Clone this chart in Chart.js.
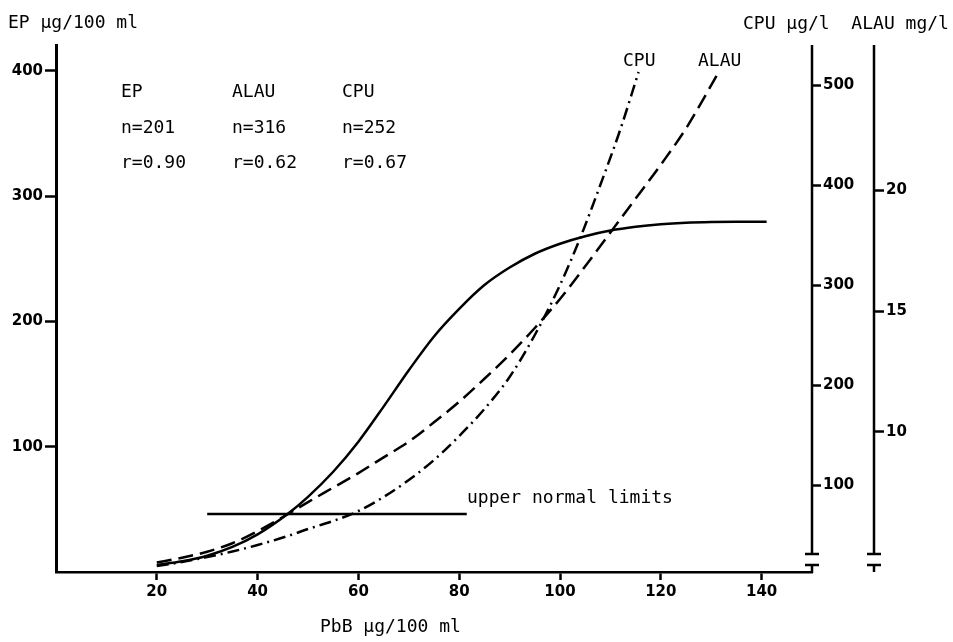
<!DOCTYPE html>
<html>
<head>
<meta charset="utf-8">
<script src="https://cdn.jsdelivr.net/npm/chart.js@4/dist/chart.umd.min.js"></script>
<style>
  html, body { margin: 0; padding: 0; background: #fff; }
  #wrap { width: 953px; height: 642px; }
</style>
</head>
<body>
<div id="wrap"><canvas id="c" width="953" height="642"></canvas></div>
<script>
// ---- data ----
const epPbB  = [20, 25, 30, 35, 40, 46, 50, 55, 60, 65, 70, 75, 80, 85, 90, 95, 100, 105, 110, 115, 120, 125, 130, 135, 141];
const epVals = [5.6, 8.5, 13, 20, 30, 46.5, 60, 80, 104, 132, 161, 188, 210, 229, 243, 254, 262, 268, 272.5, 275.5, 277.5, 278.7, 279.3, 279.5, 279.5];

const alauPbB  = [20, 25, 30, 35, 40, 46, 50, 55, 60, 65, 70, 75, 80, 85, 90, 95, 100, 105, 110, 115, 120, 125, 131.5];
const alauVals = [4.6, 4.8, 5.05, 5.4, 5.9, 6.6, 7.1, 7.7, 8.3, 8.95, 9.6, 10.4, 11.25, 12.2, 13.2, 14.3, 15.5, 16.85, 18.25, 19.65, 21.05, 22.55, 24.88];

const cpuPbB  = [20, 25, 30, 35, 40, 46, 50, 55, 60, 65, 70, 75, 80, 85, 90, 95, 100, 104, 108, 112, 115.6];
const cpuVals = [19, 23, 28, 33.5, 40, 49, 56, 64, 74, 88, 105, 125, 149, 176, 208, 250, 300, 347, 400, 456, 513];

const limitPbB = [30, 81.5];
const limitEP  = [46.3, 46.3];

const xTicks    = [20, 40, 60, 80, 100, 120, 140];
const epTicks   = [100, 200, 300, 400];
const cpuTicks  = [100, 200, 300, 400, 500];
const alauTicks = [10, 15, 20];

const statHeads = ['EP', 'ALAU', 'CPU'];
const statN     = ['n=201', 'n=316', 'n=252'];
const statR     = ['r=0.90', 'r=0.62', 'r=0.67'];

// ---- helpers ----
const pts = (xs, ys) => xs.map((v, i) => ({ x: v, y: ys[i] }));
const BLACK = '#000';
const tickFont = { family: '"DejaVu Sans"', size: 15, weight: 'bold' };
const monoFont = '18px "DejaVu Sans Mono"';

const lineBase = {
  borderColor: BLACK, borderWidth: 2.5, pointRadius: 0, fill: false,
  cubicInterpolationMode: 'monotone'
};

const fixTicks = arr => scale => { scale.ticks = arr.map(v => ({ value: v })); };

const decor = {
  id: 'decor',
  afterDraw(chart) {
    const ctx = chart.ctx;
    const ca = chart.chartArea;
    const cpu = chart.scales.cpu, alau = chart.scales.alau;
    ctx.save();
    ctx.strokeStyle = BLACK;
    ctx.fillStyle = BLACK;
    ctx.lineWidth = 2.5;
    ctx.lineCap = 'butt';
    const seg = (x1, y1, x2, y2) => { ctx.beginPath(); ctx.moveTo(x1, y1); ctx.lineTo(x2, y2); ctx.stroke(); };
    const breakY = ca.bottom - 18;
    // right axis lines with break marks
    [cpu.left, alau.left].forEach(ax => {
      seg(ax, ca.top, ax, breakY);
      seg(ax - 7, breakY, ax + 7, breakY);
      seg(ax - 7, breakY + 11, ax + 7, breakY + 11);
    });
    // x axis hook into the CPU break
    seg(cpu.left, ca.bottom + 1, cpu.left, breakY + 11);
    // ALAU lower stub
    seg(alau.left, breakY + 11, alau.left, ca.bottom);

    // texts
    ctx.font = monoFont;
    ctx.textBaseline = 'alphabetic';
    ctx.textAlign = 'left';
    ctx.fillText('EP \u00b5g/100 ml', 8, 28);
    ctx.fillText('CPU \u00b5g/l  ALAU mg/l', 743, 29);
    ctx.fillText('PbB \u00b5g/100 ml', 320, 632);
    ctx.fillText('upper normal limits', 467, 503);
    ctx.fillText('CPU', 623, 66);
    ctx.fillText('ALAU', 698, 66);
    const colX = [121, 232, 342];
    statHeads.forEach((t, i) => ctx.fillText(t, colX[i], 97));
    statN.forEach((t, i) => ctx.fillText(t, colX[i], 133));
    statR.forEach((t, i) => ctx.fillText(t, colX[i], 168));
    ctx.restore();
  }
};

new Chart(document.getElementById('c'), {
  type: 'line',
  data: {
    datasets: [
      { ...lineBase, label: 'EP', data: pts(epPbB, epVals), yAxisID: 'y' },
      { ...lineBase, label: 'ALAU', data: pts(alauPbB, alauVals), yAxisID: 'alau', borderDash: [15, 7] },
      { ...lineBase, label: 'CPU', data: pts(cpuPbB, cpuVals), yAxisID: 'cpu', borderDash: [12, 5, 2, 5] },
      { ...lineBase, label: 'upper normal limits', data: pts(limitPbB, limitEP), yAxisID: 'y', cubicInterpolationMode: 'default' }
    ]
  },
  options: {
    responsive: false,
    animation: false,
    devicePixelRatio: 1,
    layout: { padding: { top: 45, left: 0, right: 0, bottom: 0 } },
    plugins: { legend: { display: false }, tooltip: { enabled: false } },
    scales: {
      x: {
        type: 'linear', min: 0, max: 150,
        afterBuildTicks: fixTicks(xTicks),
        afterFit: s => { s.height = 70; },
        border: { display: true, color: BLACK, width: 2.5 },
        grid: { drawOnChartArea: false, drawTicks: true, tickLength: 8, tickColor: BLACK, tickWidth: 2.5, color: BLACK },
        ticks: { color: BLACK, font: tickFont, padding: 3, autoSkip: false, maxRotation: 0 }
      },
      y: {
        type: 'linear', position: 'left', min: 0, max: 420.6,
        afterBuildTicks: fixTicks(epTicks),
        afterFit: s => { s.width = 56; },
        border: { display: true, color: BLACK, width: 3 },
        grid: { drawOnChartArea: false, drawTicks: true, tickLength: 11, tickColor: BLACK, tickWidth: 2.5, color: BLACK },
        ticks: { color: BLACK, font: tickFont, padding: 2 }
      },
      cpu: {
        type: 'linear', position: 'right', min: 13, max: 540,
        afterBuildTicks: fixTicks(cpuTicks),
        afterFit: s => { s.width = 62; },
        border: { display: false },
        grid: { drawOnChartArea: false, drawTicks: true, tickLength: 9, tickColor: BLACK, tickWidth: 2.5, color: BLACK },
        ticks: { color: BLACK, font: tickFont, padding: 2 }
      },
      alau: {
        type: 'linear', position: 'right', min: 4.21, max: 26.0,
        afterBuildTicks: fixTicks(alauTicks),
        afterFit: s => { s.width = 79; },
        border: { display: false },
        grid: { drawOnChartArea: false, drawTicks: true, tickLength: 10, tickColor: BLACK, tickWidth: 2.5, color: BLACK },
        ticks: { color: BLACK, font: tickFont, padding: 2 }
      }
    }
  },
  plugins: [decor]
});
</script>
</body>
</html>
